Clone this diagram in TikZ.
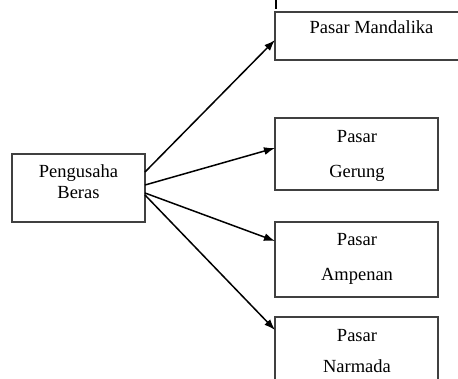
\documentclass[tikz,border=0pt]{standalone}
\usepackage{fontspec}
\setmainfont{Liberation Serif}
\usetikzlibrary{arrows.meta}
\begin{document}
\begin{tikzpicture}[x=1pt,y=-1pt,
  box/.style={draw=black!75,line width=1.4pt,rectangle,inner sep=0pt},
  lbl/.style={anchor=base,inner sep=0pt,font=\fontsize{18.5}{20}\selectfont},
  arr/.style={line width=1.5pt,-{Latex[length=11pt,width=8pt]}}]
\useasboundingbox (0,0) rectangle (458,378);
\clip (0,0) rectangle (458,378);
\fill[white] (0,0) rectangle (458,378);
% boxes
\node[box,minimum width=133pt,minimum height=68pt] (src) at (78.5,188) {};
\node[box,minimum width=193pt,minimum height=48pt] (m) at (371.5,36) {};
\node[box,minimum width=163pt,minimum height=72pt] (g) at (356.5,154) {};
\node[box,minimum width=163pt,minimum height=75pt] (a) at (356.5,259.5) {};
\node[box,minimum width=163pt,minimum height=80pt] (n) at (356.5,357) {};
% labels
\node[lbl] (t1) at (78.5,177) {Pengusaha};
\node[lbl] (t2) at (78.5,198) {Beras};
\node[lbl] (t3) at (371.5,33) {Pasar Mandalika};
\node[lbl] (t4) at (357,142) {Pasar};
\node[lbl] (t5) at (357,177) {Gerung};
\node[lbl] (t6) at (357,245) {Pasar};
\node[lbl] (t7) at (357,280.5) {Ampenan};
\node[lbl] (t8) at (357,341.5) {Pasar};
\node[lbl] (t9) at (357,372.5) {Narmada};
% arrows
\coordinate (s1) at (145,172);
\coordinate (s2) at (145,185);
\coordinate (s3) at (145,193);
\coordinate (s4) at (145,195);
\coordinate (e1) at (275,40);
\coordinate (e2) at (275,148);
\coordinate (e3) at (275,241);
\coordinate (e4) at (275,330);
\draw[arr] (s1) -- (e1);
\draw[arr] (s2) -- (e2);
\draw[arr] (s3) -- (e3);
\draw[arr] (s4) -- (e4);
% small mark at top
\coordinate (k1) at (275.5,0);
\coordinate (k2) at (275.5,9);
\draw[line width=2pt] (k1) -- (k2);
\end{tikzpicture}
\end{document}
